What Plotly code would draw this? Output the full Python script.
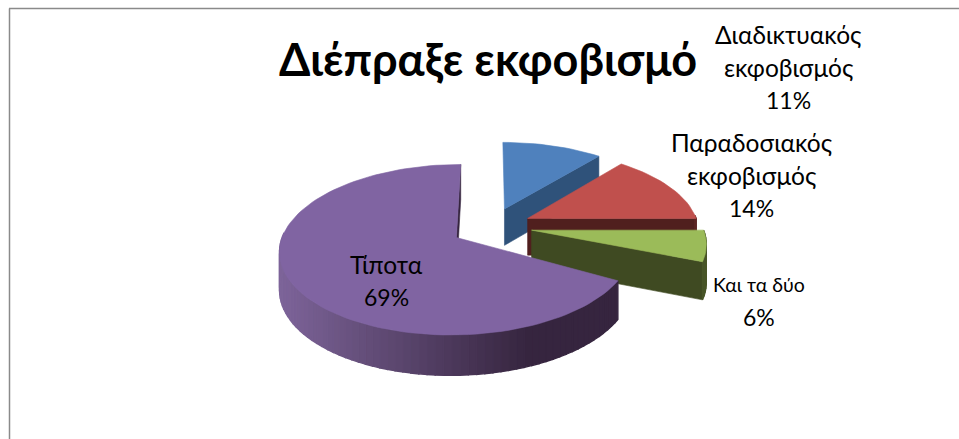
import math
import plotly.graph_objects as go

# Data
categories = ["Διαδικτυακός εκφοβισμός", "Παραδοσιακός εκφοβισμός", "Και τα δύο", "Τίποτα"]
values = [11, 14, 6, 69]
percent_labels = ["11%", "14%", "6%", "69%"]
category_lines = [["Διαδικτυακός", "εκφοβισμός"], ["Παραδοσιακός", "εκφοβισμός"], ["Και τα δύο"], ["Τίποτα"]]
chart_title = "Διέπραξε εκφοβισμό"

# Styles
top_colors = ["#4f81bd", "#c0504d", "#9bbb59", "#8064a2"]
side_colors = ["#2f527a", "#501f1e", "#3f4a22", "#36253f"]
LABEL_ANCHORS = [(788, 34), (751, 142), (759, 284), (386, 264)]
LABEL_SIZES = [24.5, 24.5, 19.5, 24.5]
LINE_STEP = 33
FONT = "Lato, 'Open Sans', sans-serif"

# Projection of the tilted pie on to the axes
CX, CY = 491, 226.5
RX, RY, K = 171, 80.4, 0.14
PULL = 0.24
DEPTH = 37
START_TRIM = [0, 0, 0, 2]  # perspective correction of a slice's first edge, in percent


def project(u, v, drop=0.0):
    w = 1 - K * v
    return CX + RX * u / w, CY + RY * v / w + drop / math.sqrt(w)


def lerp_hex(a, b, t):
    ca = [int(a[i:i + 2], 16) for i in (1, 3, 5)]
    cb = [int(b[i:i + 2], 16) for i in (1, 3, 5)]
    return "#%02x%02x%02x" % tuple(round(x + (y - x) * t) for x, y in zip(ca, cb))


fig = go.Figure()


def poly(points, color, name, width=0.6):
    xs = [p[0] for p in points] + [points[0][0]]
    ys = [p[1] for p in points] + [points[0][1]]
    fig.add_trace(go.Scatter(x=xs, y=ys, mode="lines", fill="toself", fillcolor=color,
                             line=dict(color=color, width=width), hoverinfo="skip",
                             name=name, showlegend=False))


total = sum(values)
start = 0.0
for i, (name, val) in enumerate(zip(categories, values)):
    a0 = start / total * 2 * math.pi
    a1 = (start + val) / total * 2 * math.pi
    mid = (a0 + a1) / 2
    a0 = (start + START_TRIM[i]) / total * 2 * math.pi
    start += val
    ou, ov = PULL * math.sin(mid), -PULL * math.cos(mid)
    n = max(4, int(val * 1.5))
    angles = [a0 + (a1 - a0) * j / n for j in range(n + 1)]
    rim = [(ou + math.sin(a), ov - math.cos(a)) for a in angles]

    # end radial wall
    poly([project(ou, ov), project(*rim[-1]), project(*rim[-1], DEPTH), project(ou, ov, DEPTH)],
         side_colors[i], name)
    # outer wall, front-facing parts only
    for j in range(n):
        amid = (angles[j] + angles[j + 1]) / 2
        if -math.cos(amid) < -0.05:
            continue
        if i == 3:
            xm = project(*rim[j])[0]
            t = min(1, max(0, (xm - 282) / 250))
            color = lerp_hex("#7d6499", side_colors[i], t)
        else:
            color = lerp_hex(side_colors[i], top_colors[i], 0.1)
        poly([project(*rim[j]), project(*rim[j + 1]), project(*rim[j + 1], DEPTH), project(*rim[j], DEPTH)],
             color, name, width=1.4)
    # top face
    poly([project(ou, ov)] + [project(*p) for p in rim], top_colors[i], name)

annotations = [dict(x=488, y=59, text="<b>" + chart_title + "</b>", showarrow=False,
                    font=dict(family=FONT, size=45, color="#000000"), xanchor="center", yanchor="middle")]
for anchor, lines, pct, size in zip(LABEL_ANCHORS, category_lines, percent_labels, LABEL_SIZES):
    for k, line in enumerate(lines + [pct]):
        annotations.append(dict(x=anchor[0], y=anchor[1] + k * LINE_STEP, text=line, showarrow=False,
                                font=dict(family=FONT, size=size if k < len(lines) else 23, color="#000000"),
                                xanchor="center", yanchor="middle"))

fig.update_layout(
    width=959, height=439, margin=dict(l=0, r=0, t=0, b=0),
    paper_bgcolor="#ffffff", plot_bgcolor="#ffffff", showlegend=False,
    xaxis=dict(range=[0, 959], visible=False, fixedrange=True),
    yaxis=dict(range=[439, 0], visible=False, fixedrange=True),
    annotations=annotations,
    shapes=[dict(type="line", x0=9.5, x1=9.5, y0=8.5, y1=439, line=dict(color="#8a8a8a", width=1.5)),
            dict(type="line", x0=9, x1=959, y0=8.5, y1=8.5, line=dict(color="#8a8a8a", width=1.5))],
)
fig.write_html("out.html", config={"displayModeBar": False},
               post_script="document.body.style.margin='0';document.body.style.overflow='hidden';")
